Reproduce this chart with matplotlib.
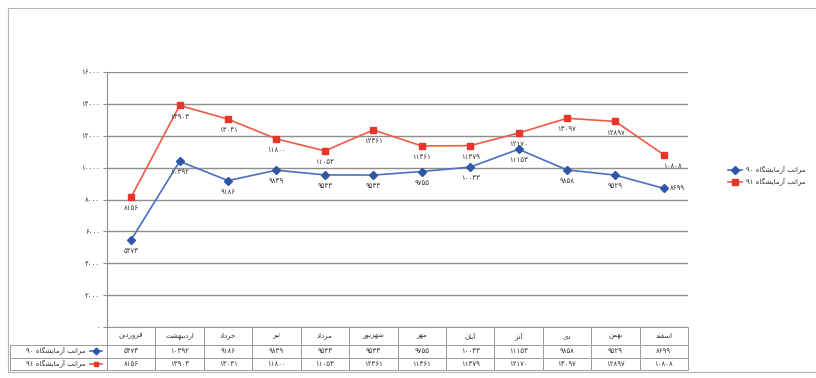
import re
import matplotlib
matplotlib.use("Agg")
import matplotlib.pyplot as plt
from matplotlib.table import Table
from matplotlib.patches import Rectangle
from matplotlib.lines import Line2D

# ماه‌ها و مقادیر دو سری
months = ["فروردین", "اردیبهشت", "خرداد", "تیر", "مرداد", "شهریور",
          "مهر", "آبان", "آذر", "دی", "بهمن", "اسفند"]
series_90 = [5473, 10392, 9186, 9839, 9543, 9533, 9755, 10033, 11153, 9858, 9529, 8699]
series_91 = [8156, 13903, 13041, 11800, 11053, 12361, 11361, 11379, 12170, 13097, 12897, 10808]
name_90 = "مراتب آزمایشگاه ۹۰"
name_91 = "مراتب آزمایشگاه ۹۱"
yticks = [0, 2000, 4000, 6000, 8000, 10000, 12000, 14000, 16000]

# شکل‌های چسبان حروف: جدا، پایانی، آغازی، میانی
FORMS = {
    "ا": ("\ufe8d", "\ufe8e", None, None),
    "آ": ("\ufe81", "\ufe82", None, None),
    "ب": ("\ufe8f", "\ufe90", "\ufe91", "\ufe92"),
    "ت": ("\ufe95", "\ufe96", "\ufe97", "\ufe98"),
    "خ": ("\ufea5", "\ufea6", "\ufea7", "\ufea8"),
    "د": ("\ufea9", "\ufeaa", None, None),
    "ذ": ("\ufeab", "\ufeac", None, None),
    "ر": ("\ufead", "\ufeae", None, None),
    "ز": ("\ufeaf", "\ufeb0", None, None),
    "س": ("\ufeb1", "\ufeb2", "\ufeb3", "\ufeb4"),
    "ش": ("\ufeb5", "\ufeb6", "\ufeb7", "\ufeb8"),
    "ف": ("\ufed1", "\ufed2", "\ufed3", "\ufed4"),
    "م": ("\ufee1", "\ufee2", "\ufee3", "\ufee4"),
    "ن": ("\ufee5", "\ufee6", "\ufee7", "\ufee8"),
    "ه": ("\ufee9", "\ufeea", "\ufeeb", "\ufeec"),
    "و": ("\ufeed", "\ufeee", None, None),
    "ی": ("\ufbfc", "\ufbfd", "\ufbfe", "\ufbff"),
    "گ": ("\ufb92", "\ufb93", "\ufb94", "\ufb95"),
}
DIGITS = str.maketrans("0123456789", "۰۱۲۳۴۵۶۷۸۹")


def shape(word):
    out = []
    for i, ch in enumerate(word):
        if ch not in FORMS:
            out.append(ch)
            continue
        prev = word[i - 1] if i > 0 else ""
        nxt = word[i + 1] if i + 1 < len(word) else ""
        jp = prev in FORMS and FORMS[prev][2] is not None
        jn = FORMS[ch][2] is not None and nxt in FORMS
        idx = 3 if (jp and jn) else 1 if jp else 2 if jn else 0
        out.append(FORMS[ch][idx])
    return "".join(out)


def fa(text):
    # متن راست‌به‌چپ را برای رسم چپ‌به‌راست آماده می‌کند
    parts = re.split(r"([۰-۹0-9]+)", shape(text))
    vis = [p if re.fullmatch(r"[۰-۹0-9]+", p) else p[::-1] for p in parts if p]
    return "".join(vis[::-1])


def fnum(v):
    return str(v).translate(DIGITS)


blue_line = "#4A6FC0"
blue_mark = "#2F56A8"
red_line = "#F05A45"
red_mark = "#E8342A"
grid_c = "#8E8E8E"
text_c = "#333333"

fig = plt.figure(figsize=(8.16, 3.78), dpi=100)
fig.patches.append(Rectangle((8 / 816, 6 / 378), 1.0, 364 / 378, transform=fig.transFigure,
                             fill=False, edgecolor="#B5B5B5", lw=0.8))
ax = fig.add_axes([107 / 816, 51 / 378, 581 / 816, 255 / 378])

x = list(range(len(months)))
ax.plot(x, series_90, color=blue_line, lw=1.2, marker="D", ms=4.2,
        mfc=blue_mark, mec=blue_mark, zorder=3)
ax.plot(x, series_91, color=red_line, lw=1.2, marker="s", ms=4.2,
        mfc=red_mark, mec=red_mark, zorder=3)

for i in x:
    dx = 10 if i == len(x) - 1 else 0
    ax.annotate(fnum(series_90[i]), (i, series_90[i]), xytext=(dx, -8 if dx == 0 else 0),
                textcoords="offset points", ha="center", va="center", fontsize=5, color=text_c)
    ax.annotate(fnum(series_91[i]), (i, series_91[i]), xytext=(dx * 0.6, -8),
                textcoords="offset points", ha="center", va="center", fontsize=5, color=text_c)

ax.set_xlim(-0.5, len(months) - 0.5)
ax.set_ylim(0, 16000)
ax.set_yticks(yticks)
ax.set_yticklabels([fnum(t) for t in yticks], fontsize=5, color=text_c)
ax.set_xticks([])
ax.yaxis.grid(True, color=grid_c, lw=1.0)
ax.set_axisbelow(True)
for s in ["top", "right", "bottom"]:
    ax.spines[s].set_visible(False)
ax.spines["left"].set_color(grid_c)
ax.tick_params(axis="y", length=3, color=grid_c, pad=2)

# جدول داده‌ها زیر نمودار
head_h = 18 / 255
row_h = 12.5 / 255
lab_w = 97 / 581
tab = Table(ax, loc="bottom")
for j, m in enumerate(months):
    tab.add_cell(0, j, width=1 / 12, height=head_h, text=fa(m), loc="center")
for r, vals in enumerate([series_90, series_91], start=1):
    tab.add_cell(r, -1, width=lab_w, height=row_h, text="", loc="right")
    for j, v in enumerate(vals):
        tab.add_cell(r, j, width=1 / 12, height=row_h, text=fnum(v), loc="center")
tab.auto_set_font_size(False)
tab.set_fontsize(5)
for cell in tab.get_celld().values():
    cell.set_edgecolor("#9A9A9A")
    cell.set_linewidth(0.7)
    cell.get_text().set_color(text_c)
ax.add_table(tab)

# برچسب سطرهای جدول با نشانگر سری
for r, (name, lc, mc, mk) in enumerate([(name_90, blue_line, blue_mark, "D"),
                                        (name_91, red_line, red_mark, "s")]):
    yy = -head_h - row_h * (r + 0.5)
    ax.plot([-0.03, -0.008], [yy, yy], transform=ax.transAxes, color=lc, lw=1.2,
            clip_on=False)
    ax.plot([-0.019], [yy], transform=ax.transAxes, marker=mk, ms=3.4,
            color=mc, clip_on=False)
    ax.text(-0.037, yy, fa(name), transform=ax.transAxes, ha="right", va="center",
            fontsize=5, color=text_c)

handles = [Line2D([], [], color=blue_line, lw=1.2, marker="D", ms=4, mfc=blue_mark, mec=blue_mark),
           Line2D([], [], color=red_line, lw=1.2, marker="s", ms=4, mfc=red_mark, mec=red_mark)]
fig.legend(handles, [fa(name_90), fa(name_91)], loc="center left",
           bbox_to_anchor=(722 / 816, 1 - 176 / 378), frameon=False, fontsize=5,
           handlelength=2.0, labelspacing=0.6, handletextpad=0.5, labelcolor=text_c)

fig.savefig("out.png", dpi=100)
